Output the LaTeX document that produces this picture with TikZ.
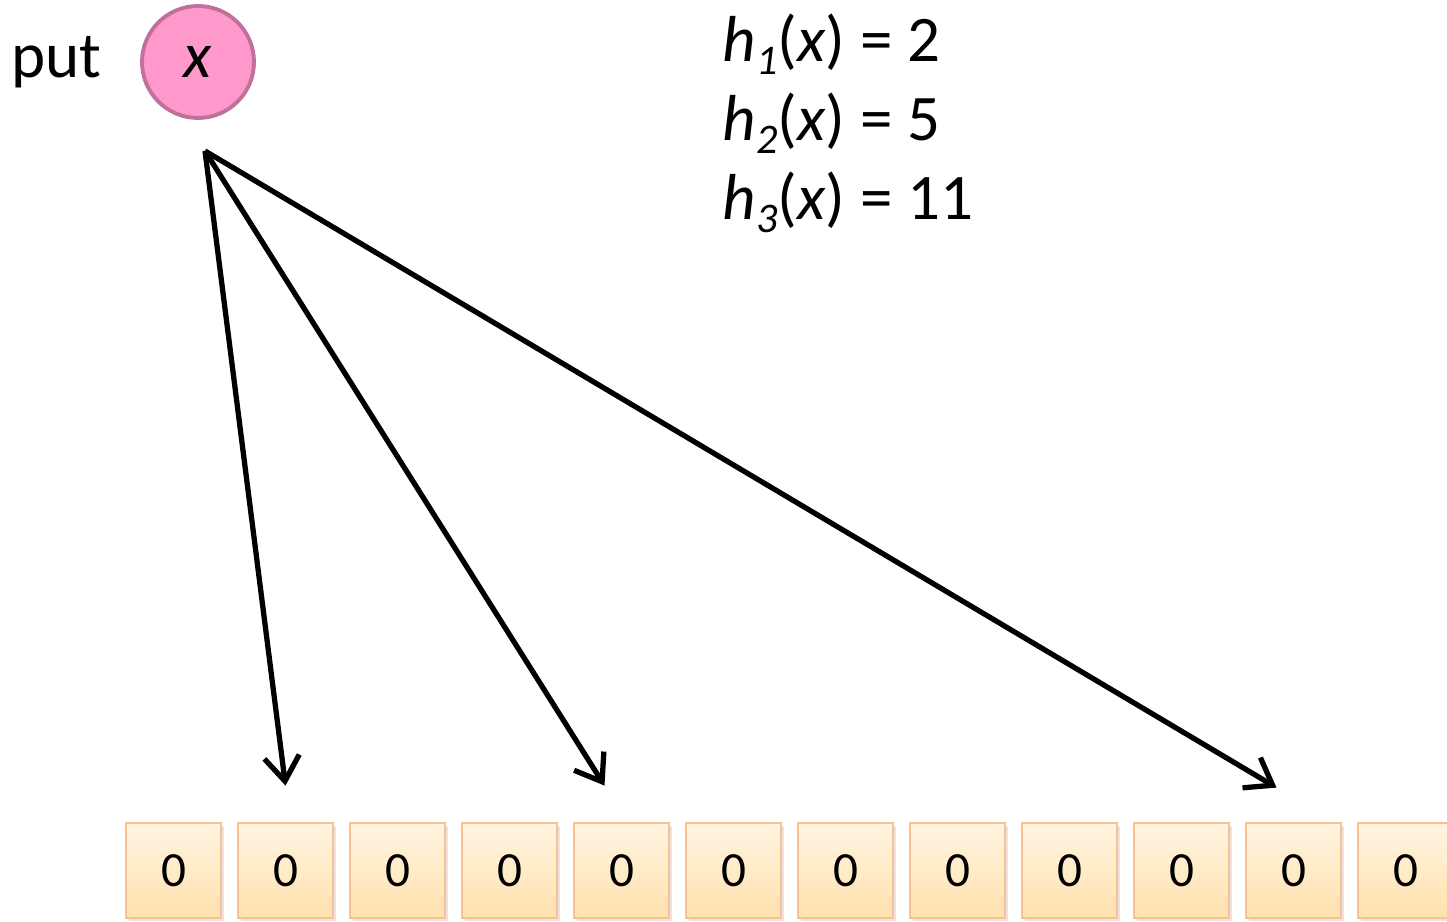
\documentclass[tikz,border=0pt]{standalone}
\usepackage{fontspec}
\setmainfont{Carlito}
\usepackage{tikz}
\usetikzlibrary{arrows.meta,positioning,calc,shadows}
\usepackage{xcolor}
\definecolor{keyfill}{HTML}{FF99CC}
\definecolor{keyline}{HTML}{C0709A}
\definecolor{celltop}{HTML}{FFF4E2}
\definecolor{cellbot}{HTML}{FFE2AC}
\definecolor{cellline}{HTML}{FAC090}
\newcommand{\hsub}[1]{\raisebox{-0.2em}{\fontsize{12}{12}\selectfont\itshape #1}}
\newcommand{\hfn}[2]{\textit{h}\hsub{#1}(\textit{x}) = #2}

\begin{document}
\begin{tikzpicture}[x=1cm, y=1cm,
                    every node/.style={font=\fontsize{18.5}{22}\selectfont},
                    cell/.style={draw=cellline, line width=0.8pt,
                                 top color=celltop, bottom color=cellbot,
                                 minimum width=0.95cm, minimum height=0.95cm,
                                 inner sep=0pt, font=\fontsize{14}{17}\selectfont,
                                 drop shadow={shadow xshift=0.025cm, shadow yshift=-0.025cm,
                                              opacity=0.2}},
                    hasharrow/.style={line width=1.5pt,
                                      -{Straight Barb[length=7pt,width=10pt]}}]
  \useasboundingbox (0,0) rectangle (14.47,-9.22);
  % key to insert
  \node[anchor=base west, inner sep=0pt, font=\fontsize{18.5}{22}\selectfont]
       (put) at (0.11,-0.78) {put};
  \node[circle, draw=keyline, line width=1.1pt, fill=keyfill,
        minimum size=1.12cm, inner sep=0pt] (key) at (1.98,-0.62) {\textit{x}};
  % hash values
  \node[anchor=base west, inner sep=0pt] (ha) at (7.22,-0.62) {\hfn{1}{2}};
  \node[anchor=base west, inner sep=0pt] (hb) at (7.22,-1.41) {\hfn{2}{5}};
  \node[anchor=base west, inner sep=0pt] (hc) at (7.22,-2.20) {\hfn{3}{11}};
  % bit array
  \foreach \i in {1,...,12}
    \node[cell] (b\i) at ({1.735+(\i-1)*1.12},-8.705) {0};
  % arrows from the key to its bits
  \coordinate (src) at (2.05,-1.51);
  \draw[hasharrow] (src) -- ($(b2.north)+(0,0.36)$);
  \draw[hasharrow] (src) -- ($(b5.north)+(-0.17,0.36)$);
  \draw[hasharrow] (src) -- ($(b11.north)+(-0.17,0.34)$);
\end{tikzpicture}
\end{document}
